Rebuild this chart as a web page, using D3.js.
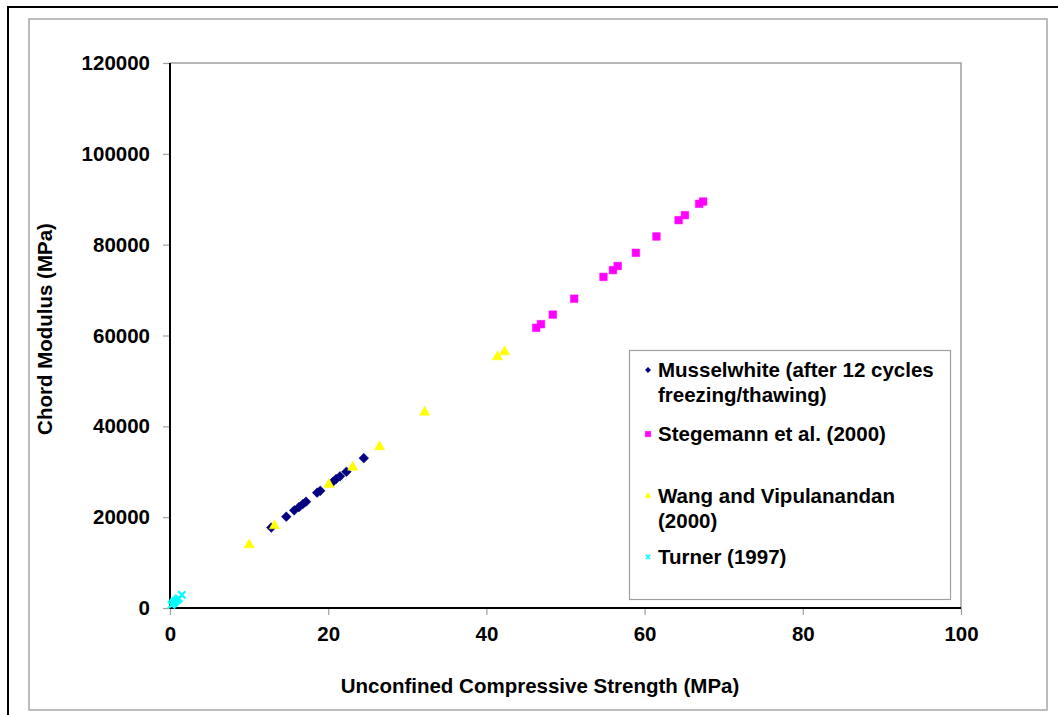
<!DOCTYPE html>
<html>
<head>
<meta charset="utf-8">
<script src="https://cdn.jsdelivr.net/npm/d3@7"></script>
<style>
  body { margin: 0; background: #fff; }
  svg { display: block; font-family: Arial, "Liberation Sans", sans-serif; }
</style>
</head>
<body>
<svg id="chart" width="1058" height="715"></svg>
<script>
// data: [UCS (MPa), chord modulus (MPa)]
const musselwhite = [[12.8, 17700], [14.7, 20100], [15.7, 21500], [16.3, 22200], [16.8, 22900],
  [17.2, 23400], [18.6, 25400], [19.0, 25800], [20.6, 27800], [21.0, 28400], [21.5, 29000],
  [22.3, 30000], [24.5, 33000]];
const stegemann = [[46.3, 61700], [46.9, 62500], [48.4, 64600], [51.1, 68100], [54.8, 72900],
  [56.0, 74400], [56.6, 75300], [58.9, 78200], [61.5, 81800], [64.3, 85400], [65.1, 86500],
  [66.9, 89000], [67.4, 89500]];
const wang = [[10.0, 13900], [13.2, 18100], [20.1, 27200], [23.1, 31000], [26.5, 35500],
  [32.2, 43100], [41.4, 55300], [42.3, 56400]];
const turner = [[0.2, 700], [0.4, 1000], [0.5, 1300], [0.7, 1500], [0.9, 1800], [1.1, 2100], [1.5, 2900]];

const xTicks = [0, 20, 40, 60, 80, 100];
const yTicks = [0, 20000, 40000, 60000, 80000, 100000, 120000];

const seriesNames = ["Musselwhite (after 12 cycles|freezing/thawing)", "Stegemann et al. (2000)",
  "Wang and Vipulanandan|(2000)", "Turner (1997)"];

const fontSize = 20.5;

const svg = d3.select("#chart");

// frames
svg.append("path")
  .attr("d", "M8,715V7H1058")
  .attr("fill", "none")
  .attr("stroke", "#000")
  .attr("stroke-width", 2);
svg.append("rect")
  .attr("x", 29).attr("y", 19).attr("width", 1018).attr("height", 691)
  .attr("fill", "none").attr("stroke", "#a6a6a6").attr("stroke-width", 1.5);

const margin = { left: 170, top: 63, right: 961, bottom: 608 };

const x = d3.scaleLinear().domain([0, 100]).range([margin.left, margin.right]);
const y = d3.scaleLinear().domain([0, 120000]).range([margin.bottom, margin.top]);

// plot area border (top / right grey)
svg.append("path")
  .attr("d", `M${margin.left},${margin.top}H${margin.right}V${margin.bottom}`)
  .attr("fill", "none").attr("stroke", "#a0a0a0").attr("stroke-width", 1.5);

// x axis
const xAxis = svg.append("g")
  .attr("transform", `translate(0,${margin.bottom})`)
  .call(d3.axisBottom(x).tickValues(xTicks).tickSize(7).tickPadding(11).tickFormat(d3.format("d")));
xAxis.select(".domain").remove();
xAxis.selectAll(".tick line").attr("stroke", "#a0a0a0").attr("stroke-width", 1.2);
xAxis.selectAll("text").attr("font-size", fontSize).attr("font-weight", "bold").attr("fill", "#000");

// y axis
const yAxis = svg.append("g")
  .attr("transform", `translate(${margin.left},0)`)
  .call(d3.axisLeft(y).tickValues(yTicks).tickSize(7).tickPadding(13).tickFormat(d3.format("d")));
yAxis.select(".domain").remove();
yAxis.selectAll(".tick line").attr("stroke", "#a0a0a0").attr("stroke-width", 1.2);
yAxis.selectAll("text").attr("font-size", fontSize).attr("font-weight", "bold").attr("fill", "#000");

// black axis lines
svg.append("path")
  .attr("d", `M${margin.left},${margin.top}V${margin.bottom}H${margin.right}`)
  .attr("fill", "none").attr("stroke", "#000").attr("stroke-width", 2);

// axis titles
svg.append("text")
  .attr("x", 540).attr("y", 693)
  .attr("text-anchor", "middle")
  .attr("font-size", fontSize).attr("font-weight", "bold")
  .text("Unconfined Compressive Strength (MPa)");
svg.append("text")
  .attr("transform", "translate(52,329) rotate(-90)")
  .attr("text-anchor", "middle")
  .attr("font-size", fontSize).attr("font-weight", "bold")
  .text("Chord Modulus (MPa)");

// markers
const symDiamond = d3.symbol().type(d3.symbolDiamond2).size(60);
const symSquare = d3.symbol().type(d3.symbolSquare).size(58);
const symTriangle = d3.symbol().type(d3.symbolTriangle).size(46);
const symCross = d3.symbol().type(d3.symbolX).size(36);

const series = [
  { data: musselwhite, sym: symDiamond, color: "#000080", cross: false },
  { data: stegemann, sym: symSquare, color: "#ff00ff", cross: false },
  { data: wang, sym: symTriangle, color: "#ffff00", cross: false },
  { data: turner, sym: symCross, color: "#00ffff", cross: true }
];

series.forEach(s => {
  svg.append("g").selectAll("path")
    .data(s.data)
    .join("path")
    .attr("transform", d => `translate(${x(d[0])},${y(d[1])})`)
    .attr("d", s.sym)
    .attr("fill", s.cross ? "none" : s.color)
    .attr("stroke", s.color)
    .attr("stroke-width", s.cross ? 2.2 : 0.5);
});

// legend
const legend = svg.append("g");
legend.append("rect")
  .attr("x", 629.5).attr("y", 350.5).attr("width", 321).attr("height", 249)
  .attr("fill", "#fff").attr("stroke", "#a0a0a0").attr("stroke-width", 1.2);

const legendY = [370, 434, 496, 557];
const legendSyms = [
  d3.symbol().type(d3.symbolDiamond2).size(18),
  d3.symbol().type(d3.symbolSquare).size(30),
  d3.symbol().type(d3.symbolTriangle).size(16),
  d3.symbol().type(d3.symbolX).size(14)
];

seriesNames.forEach((name, i) => {
  legend.append("path")
    .attr("transform", `translate(648,${legendY[i]})`)
    .attr("d", legendSyms[i])
    .attr("fill", series[i].cross ? "none" : series[i].color)
    .attr("stroke", series[i].color)
    .attr("stroke-width", series[i].cross ? 1.5 : 0.5);
  const t = legend.append("text")
    .attr("x", 658).attr("y", legendY[i] + 7)
    .attr("font-size", fontSize).attr("font-weight", "bold");
  name.split("|").forEach((line, j) => {
    t.append("tspan").attr("x", 658).attr("dy", j === 0 ? 0 : 25).text(line);
  });
});
</script>
</body>
</html>
